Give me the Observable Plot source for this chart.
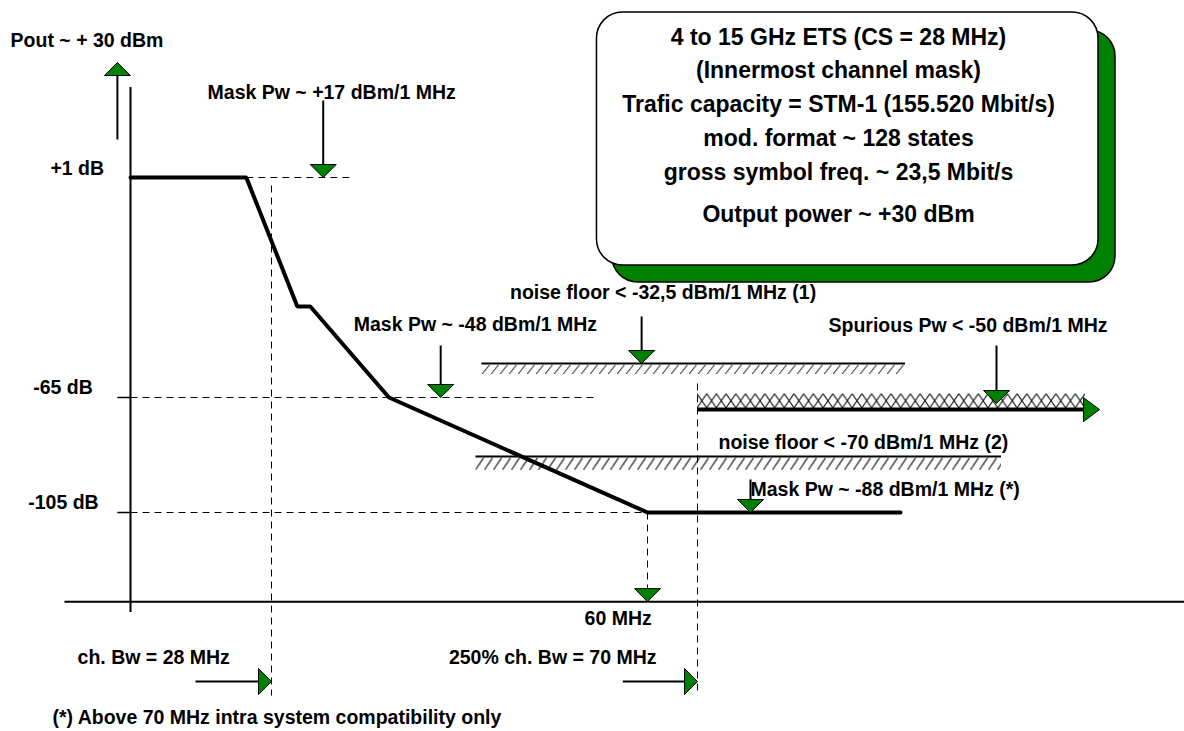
<!DOCTYPE html>
<html><head><meta charset="utf-8">
<script src="https://cdn.jsdelivr.net/npm/d3@7"></script>
<script src="https://cdn.jsdelivr.net/npm/@observablehq/plot@0.6"></script>
<style>body{margin:0;background:#fff;}</style>
</head><body><div id="chart"></div>
<script>
// ---- data (x in MHz offset from carrier, y in dB relative to carrier) ----
const maskFreq  = [0, 23, 30.2, 31.3, 38, 60, 110.6];
const maskLevel = [1, 1, -37.7, -37.7, -65, -105, -105];

const refLevels = [1, -65, -105];
const refLabels = ["+1 dB", "-65 dB", "-105 dB"];
const keyFreqs  = [28, 60, 70];

const boxLines = ["4 to 15 GHz ETS (CS = 28 MHz)", "(Innermost channel mask)",
  "Trafic capacity = STM-1 (155.520 Mbit/s)", "mod. format ~ 128 states",
  "gross symbol freq. ~ 23,5 Mbit/s", "Output power ~ +30 dBm"];
const boxLineLevel = [43.0, 33.1, 22.9, 12.7, 2.5, -10.1];
const boxTextFreq = 98.2;
const boxFreq  = [55.7, 150.2];
const boxLevel = [50.5, -25.4];
const shadowFreq  = [57.0, 153.6];
const shadowLevel = [45.1, -30.5];

const labelTexts = ["Pout ~ + 30 dBm", "Mask Pw ~ +17 dBm/1 MHz", "Mask Pw ~ -48 dBm/1 MHz",
  "noise floor < -32,5 dBm/1 MHz (1)", "Spurious Pw < -50 dBm/1 MHz",
  "noise floor < -70 dBm/1 MHz (2)", "Mask Pw ~ -88 dBm/1 MHz (*)",
  "ch. Bw = 28 MHz", "250% ch. Bw = 70 MHz",
  "(*) Above 70 MHz intra system compatibility only"];
const labelFreqs  = [-23.8, 15.3, 35.0, 48.3, 96.2, 74.2, 80.6, -10.5, 43.1, -15.5];
const labelLevels = [42.1, 26.5, -43.1, -33.5, -43.4, -80.7, -97.0, -155.4, -155.4, -176.3];
const refLabelFreqs  = [-15.9, -19.3, -20.3];
const refLabelLevels = [3.7, -62.0, -101.5];
const freqLabel = "60 MHz";
const freqLabelPos = [57.5, -141.9];

// noise floors / spurious limit: [f1, f2, level, hatchBottom]
const noise1 = [45.9, 111.6, -54.8, -58.1];
const noise2 = [45.4, 130.8, -85.5, -90.4];
const spurious = [70, 147.6, -69.2, -64.0, -68.8, 150.4];

const axisFreq = [-13, 168];
const axisLevel = -136;
const yAxisLevel = [28.0, -139.8];

// arrows: shaft [f1,l1,f2,l2], head [f,l,rotation]
const shafts = [
  [-2.6, 12.4, -2.6, 31.6], [32.4, 24.1, 32.4, 4.6], [42.4, -49.4, 42.4, -61.4],
  [59.5, -40.7, 59.5, -50.9], [129.8, -49.4, 129.8, -63.5], [80.6, -93.5, 80.6, -100.8],
  [12.9, -163.8, 25.4, -163.8], [57.9, -163.8, 67.6, -163.8]];
const heads = [
  [-2.6, 35.5, 180], [32.4, 1, 0], [42.4, -65, 0], [59.5, -54.8, 0], [129.8, -67.1, 0],
  [80.6, -105, 0], [60, -136, 0], [28, -163.8, -90], [70, -163.8, -90]];

const dashed = [
  [23, 1, 34.7, 1], [0, -65, 55.7, -65], [0, -105, 60, -105],
  [28, -1.4, 28, -168.7], [60, -105, 60, -131.8], [70, -60.8, 70, -168.7]];
const ticks = [[-2.6, -65, 0, -65], [-2.6, -105, 0, -105]];

// ---- build ----
const G = "#008000";
const seg = a => a.map(([f1, l1, f2, l2]) => ({f1, l1, f2, l2}));
const headDown = {draw(c) { c.moveTo(0, 0); c.lineTo(-13, -13); c.lineTo(13, -13); c.closePath(); }};
const headBig  = {draw(c) { c.moveTo(0, 0); c.lineTo(-12, -16); c.lineTo(12, -16); c.closePath(); }};

const labels = labelTexts.map((t, i) => ({t, f: labelFreqs[i], l: labelLevels[i]}))
  .concat(refLabels.map((t, i) => ({t, f: refLabelFreqs[i], l: refLabelLevels[i]})));
const boxT = boxLines.map((t, i) => ({t, l: boxLineLevel[i]}));

const plot = Plot.plot({
  width: 1184, height: 731,
  marginTop: 0, marginRight: 0, marginBottom: 0, marginLeft: 0,
  style: {fontFamily: "'Liberation Sans', Arial, sans-serif", background: "white", color: "black"},
  x: {type: "linear", domain: [-13, 0, 28, 60, 70, 168], range: [64.5, 130, 271, 647, 697, 1187], axis: null},
  y: {type: "linear", domain: [1, -65, -105], range: [177, 397, 512], axis: null},
  marks: [
    Plot.rect([0], {x1: () => shadowFreq[0], x2: () => shadowFreq[1], y1: () => shadowLevel[0], y2: () => shadowLevel[1], fill: G, stroke: "black", strokeWidth: 1.5, rx: 26}),
    Plot.rect([0], {x1: () => boxFreq[0], x2: () => boxFreq[1], y1: () => boxLevel[0], y2: () => boxLevel[1], fill: "white", stroke: "black", strokeWidth: 1.5, rx: 26}),
    Plot.text(boxT, {x: boxTextFreq, y: "l", text: "t", fontSize: 23, fontWeight: "bold", fill: "black"}),

    Plot.rect([noise1], {x1: d => d[0], x2: d => d[1], y1: d => d[2], y2: d => d[3], fill: "url(#hatch1)"}),
    Plot.rect([noise2], {x1: d => d[0], x2: d => d[1], y1: d => d[2], y2: d => d[3], fill: "url(#hatch2)"}),
    Plot.rect([spurious], {x1: d => d[0], x2: d => d[1], y1: d => d[3], y2: d => d[4], fill: "url(#xhatch)"}),
    Plot.ruleY([noise1], {x1: d => d[0], x2: d => d[1], y: d => d[2], stroke: "black", strokeWidth: 2}),
    Plot.ruleY([noise2], {x1: d => d[0], x2: d => d[1], y: d => d[2], stroke: "black", strokeWidth: 2}),
    Plot.ruleY([spurious], {x1: d => d[0], x2: d => d[5] - 2, y: d => d[2], stroke: "black", strokeWidth: 4}),

    Plot.link(seg(dashed), {x1: "f1", y1: "l1", x2: "f2", y2: "l2", stroke: "black", strokeWidth: 1, strokeDasharray: "7,5"}),
    Plot.link(seg(ticks), {x1: "f1", y1: "l1", x2: "f2", y2: "l2", stroke: "black", strokeWidth: 1.5}),

    Plot.ruleY([axisLevel], {x1: axisFreq[0], x2: axisFreq[1], stroke: "black", strokeWidth: 2}),
    Plot.ruleX([0], {y1: yAxisLevel[0], y2: yAxisLevel[1], stroke: "black", strokeWidth: 2}),

    Plot.line(maskFreq.map((f, i) => ({f, l: maskLevel[i]})), {x: "f", y: "l", stroke: "black", strokeWidth: 4, strokeLinejoin: "miter"}),

    Plot.link(seg(shafts), {x1: "f1", y1: "l1", x2: "f2", y2: "l2", stroke: "black", strokeWidth: 2}),
    Plot.dot(heads, {x: d => d[0], y: d => d[1], rotate: d => d[2], symbol: headDown, fill: G, stroke: "black", strokeWidth: 1}),
    Plot.dot([spurious], {x: d => d[5], y: d => d[2], rotate: -90, symbol: headBig, fill: G, stroke: "black", strokeWidth: 1}),

    Plot.text(labels, {x: "f", y: "l", text: "t", textAnchor: "start", fontSize: 19.5, fontWeight: "bold", fill: "black"}),
    Plot.text([freqLabel], {x: freqLabelPos[0], y: freqLabelPos[1], text: d => d, textAnchor: "middle", fontSize: 19.5, fontWeight: "bold", fill: "black"})
  ]
});

// hatch patterns aligned to their bands
const xs = plot.scale("x"), ys = plot.scale("y");
const defs = d3.select(plot).insert("defs", ":first-child");
function pattern(id, x0, y0, w, h, d) {
  defs.append("pattern").attr("id", id).attr("patternUnits", "userSpaceOnUse")
    .attr("x", x0).attr("y", y0).attr("width", w).attr("height", h)
    .append("path").attr("d", d).attr("stroke", "black").attr("stroke-width", 1).attr("fill", "none");
}
{
  const h1 = ys.apply(noise1[3]) - ys.apply(noise1[2]);
  pattern("hatch1", xs.apply(noise1[0]), ys.apply(noise1[2]), 9, h1, `M1,${h1} L8,2`);
  const h2 = ys.apply(noise2[3]) - ys.apply(noise2[2]);
  pattern("hatch2", xs.apply(noise2[0]), ys.apply(noise2[2]), 9, h2, `M0,${h2} L8,2`);
  const h3 = ys.apply(spurious[4]) - ys.apply(spurious[3]);
  pattern("xhatch", xs.apply(spurious[0]), ys.apply(spurious[3]), 9.7, h3, `M0,0 L9.7,${h3} M0,${h3} L9.7,0`);
}
document.getElementById("chart").append(plot);
</script></body></html>
